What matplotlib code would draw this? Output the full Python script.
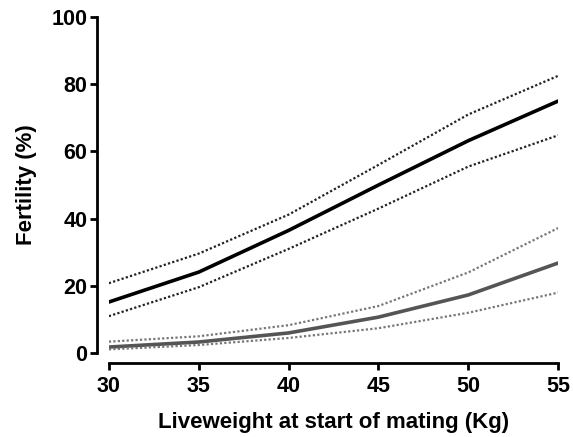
import matplotlib.pyplot as plt

plt.rcParams['font.family'] = ['Liberation Sans', 'DejaVu Sans']
plt.rcParams['font.weight'] = 'bold'

weight = [30, 35, 40, 45, 50, 55]

# first group (black)
fert_a = [15.2, 24.1, 36.5, 50.0, 63.2, 75.0]
fert_a_hi = [20.8, 29.6, 41.2, 56.0, 71.0, 82.5]
fert_a_lo = [11.0, 19.6, 31.0, 43.0, 55.5, 64.8]

# second group (grey)
fert_b = [1.8, 3.3, 6.0, 10.7, 17.3, 26.8]
fert_b_hi = [3.4, 5.0, 8.3, 14.0, 24.0, 37.2]
fert_b_lo = [1.1, 2.4, 4.5, 7.4, 12.0, 18.0]

fig = plt.figure(figsize=(5.73, 4.37), dpi=100)
ax = fig.add_axes([0.190, 0.192, 0.784, 0.769])

ax.plot(weight, fert_a, color='black', lw=2.6, solid_capstyle='round')
ax.plot(weight, fert_a_hi, color='#222222', lw=1.6, ls=(0, (1, 1)))
ax.plot(weight, fert_a_lo, color='#222222', lw=1.6, ls=(0, (1, 1)))

ax.plot(weight, fert_b, color='#555555', lw=2.6, solid_capstyle='round')
ax.plot(weight, fert_b_hi, color='#777777', lw=1.6, ls=(0, (1, 1)))
ax.plot(weight, fert_b_lo, color='#777777', lw=1.6, ls=(0, (1, 1)))

ax.set_xlim(30, 55)
ax.set_ylim(0, 100)
ax.set_xticks([30, 35, 40, 45, 50, 55])
ax.set_yticks([0, 20, 40, 60, 80, 100])

for s in ['top', 'right']:
    ax.spines[s].set_visible(False)
ax.spines['left'].set_position(('outward', 8.6))
ax.spines['bottom'].set_position(('outward', 7.2))
ax.spines['left'].set_linewidth(2)
ax.spines['bottom'].set_linewidth(2)
ax.tick_params(width=2, length=5, labelsize=15.5)
ax.tick_params(axis='x', pad=4)
ax.tick_params(axis='y', pad=2)

ax.set_xlabel('Liveweight at start of mating (Kg)', fontsize=16, fontweight='bold', labelpad=11)
ax.set_ylabel('Fertility (%)', fontsize=16, fontweight='bold', labelpad=10)

fig.savefig('out.png', dpi=100)
